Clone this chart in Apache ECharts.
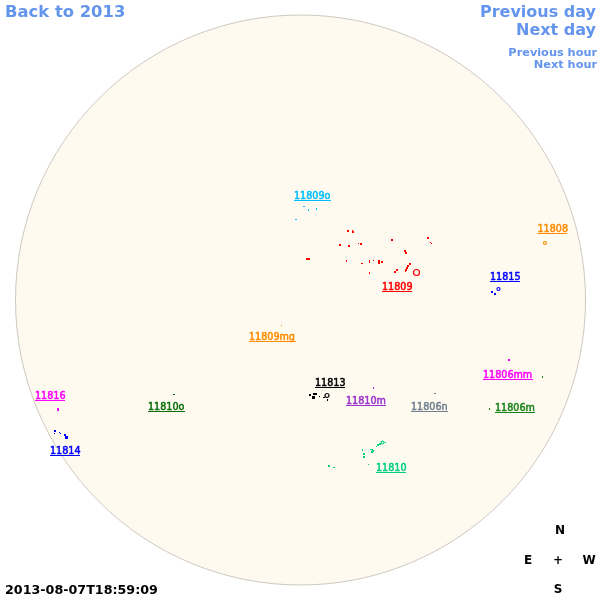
<!DOCTYPE html>
<html>
<head>
<meta charset="utf-8">
<title>Back to 2013</title>
<style>
  html, body { margin: 0; padding: 0; background: #fff; }
  #chart { width: 600px; height: 600px; }
</style>
</head>
<body>
<div id="chart"></div>
<script src="https://cdn.jsdelivr.net/npm/echarts@6/dist/echarts.min.js"></script>
<script>
// region names and colours, same order as the spot lists below
var regionNames = ['11809o', '11809', '11808', '11815', '11809mg', '11813', '11810m', '11806n', '11810', '11806mm', '11806m', '11816', '11810o', '11814'];
var regionColors = ['#00bfff', '#ff0000', '#ff8c00', '#0000ff', '#ff8c00', '#000000', '#9932cc', '#708090', '#00d080', '#ff00ff', '#1a841a', '#ff00ff', '#0a6f0a', '#0000ff'];

// label anchors [left, right, text y, underline y]
var labelBoxes = [
  [294, 331, 196.5, 200.5], [382, 412, 287, 291.5], [537.5, 567, 229, 233.5], [490, 520, 277, 281.5],
  [249, 296, 337, 341.5], [315, 345, 383, 387.5], [346, 386, 401, 405.5], [411, 448, 407, 411.5],
  [376, 406, 468, 472.5], [483, 533, 375, 379.5], [495, 535, 408.5, 412.5], [35, 65, 396.5, 400.5],
  [148, 185, 407, 411.5], [50, 80, 451, 455.5]
];

// sunspots [x, y, size], in the 600 x 600 frame of the picture
var spots11809o = [[303.5, 206.5, 1], [304.5, 206.5, 1], [308.5, 209.5, 1], [308.5, 210.5, 1], [316.5, 208.5, 1], [316.5, 209.5, 1], [295.5, 219.5, 1], [296.5, 219.5, 1]];
var spots11809 = [[348, 231, 2], [352.5, 230.5, 1], [353, 232, 2], [340, 245, 2], [349, 246, 2], [358.5, 243.5, 1], [361, 244, 2],
  [392, 240, 2], [428, 238, 2], [430.5, 242.5, 1], [431.5, 243.5, 1], [405, 251, 2], [406, 253, 2], [307, 259, 2], [309, 259, 2],
  [346.5, 260.5, 1], [346.5, 261.5, 1], [361.5, 263.5, 1], [362.5, 263.5, 1], [369.5, 260.5, 1], [369.5, 261.5, 1], [369.5, 262.5, 1], [373.5, 260.5, 1], [379, 261, 2], [379, 263, 2], [382, 262, 2],
  [369.5, 272.5, 1], [369.5, 273.5, 1], [395, 272, 2], [397, 270, 2], [410, 264, 2], [408, 266, 2], [407, 268, 2], [406, 270, 2], [405.5, 271.5, 1]];
var spots11808 = [];
var spots11815 = [[492, 292, 2], [495, 294, 2]];
var spots11809mg = [[281.5, 325.5, 1]];
var spots11813 = [[310, 395, 2], [314, 394, 2], [316, 394, 2], [313.5, 397.5, 3], [319.5, 396.5, 1], [323.5, 397.5, 1], [324.5, 397.5, 1], [327.5, 399.5, 1], [327.5, 400.5, 1]];
var spots11810m = [[373.5, 387.5, 1], [373.5, 388.5, 1]];
var spots11806n = [[434.5, 393.5, 1], [435.5, 393.5, 1]];
var spots11810 = [[385.5, 442.5, 1], [380, 444, 2], [378, 445, 2], [376.5, 446.5, 1], [370.5, 449.5, 1], [371.5, 449.5, 1], [372.5, 449.5, 1], [372, 452, 2], [373, 451, 2], [362.5, 449.5, 1], [362.5, 450.5, 1],
  [364, 454, 2], [364, 457, 2], [329, 466, 2], [333.5, 467.5, 1], [334.5, 467.5, 1], [368.5, 464.5, 1]];
var spots11806mm = [[509, 360, 2]];
var spots11806m = [[542.5, 376.5, 1], [542.5, 377.5, 1], [489.5, 408.5, 1], [489.5, 409.5, 1]];
var spots11816 = [[58, 409, 2], [58, 410, 2]];
var spots11810o = [[173.5, 394.5, 1], [174.5, 394.5, 1]];
var spots11814 = [[55, 431, 2], [54.5, 433.5, 1], [59.5, 432.5, 1], [60.5, 433.5, 1], [65, 435, 2], [66.5, 437.5, 3]];
var allSpots = [spots11809o, spots11809, spots11808, spots11815, spots11809mg, spots11813, spots11810m, spots11806n, spots11810, spots11806mm, spots11806m, spots11816, spots11810o, spots11814];

// hollow spots [x, y, size, region index]
var ringSpots = [[416.5, 272.5, 6, 1], [545, 243, 3, 2], [498.5, 289, 3, 3], [327, 395.5, 4, 5], [382.5, 442.5, 3, 8]];

var solarDisk = [[300.5, 300]];
var diskSize = 570;

var fontName = '"DejaVu Sans", sans-serif';

function cornerText(text, x, y, size, align, color) {
  return {
    type: 'text',
    x: x,
    y: y,
    silent: true,
    style: {
      text: text,
      fill: color,
      font: 'bold ' + size + 'px ' + fontName,
      textAlign: align,
      textVerticalAlign: 'middle'
    }
  };
}

function renderLabel(params, api) {
  var i = api.value(0);
  var box = labelBoxes[i];
  var left = api.coord([box[0], box[2]]);
  var under = api.coord([box[0], box[3]]);
  var right = api.coord([box[1], box[3]]);
  return {
    type: 'group',
    children: [
      {
        type: 'text',
        x: left[0],
        y: left[1],
        style: {
          text: regionNames[i],
          fill: regionColors[i],
          stroke: regionColors[i],
          lineWidth: 0.5,
          font: 'normal 9.6px ' + fontName,
          textAlign: 'left',
          textVerticalAlign: 'middle'
        }
      },
      {
        type: 'line',
        shape: { x1: under[0], y1: under[1], x2: right[0], y2: right[1] },
        style: { stroke: regionColors[i], lineWidth: 1 }
      }
    ]
  };
}

var series = [{
  name: 'disk',
  type: 'scatter',
  silent: true,
  symbol: 'circle',
  symbolSize: diskSize,
  itemStyle: { color: '#fffaf0', borderColor: '#cdc9c0', borderWidth: 1, opacity: 1 },
  data: solarDisk,
  z: 1
}];

for (var i = 0; i < regionNames.length; i++) {
  series.push({
    name: regionNames[i],
    type: 'scatter',
    silent: true,
    symbol: 'rect',
    symbolSize: function (val) { return val[2]; },
    itemStyle: { color: regionColors[i], opacity: 1 },
    data: allSpots[i],
    z: 2
  });
}

series.push({
  name: 'rings',
  type: 'scatter',
  silent: true,
  symbol: 'circle',
  symbolSize: function (val) { return val[2]; },
  data: ringSpots.map(function (r) {
    return {
      value: r,
      itemStyle: { color: 'rgba(0,0,0,0)', borderColor: regionColors[r[3]], borderWidth: 1.2, opacity: 1 }
    };
  }),
  z: 2
});

series.push({
  name: 'labels',
  type: 'custom',
  silent: true,
  renderItem: renderLabel,
  encode: { x: 1, y: 2 },
  data: regionNames.map(function (n, i) { return [i, labelBoxes[i][0], labelBoxes[i][2]]; }),
  z: 3
});

var chart = echarts.init(document.getElementById('chart'));
chart.setOption({
  animation: false,
  backgroundColor: '#ffffff',
  grid: { left: 0, right: 0, top: 0, bottom: 0 },
  xAxis: { type: 'value', min: 0, max: 600, show: false },
  yAxis: { type: 'value', min: 0, max: 600, inverse: true, show: false },
  series: series,
  graphic: [
    cornerText('Back to 2013', 5, 13, 16.4, 'left', '#6495ed'),
    cornerText('Previous day', 596, 13, 16, 'right', '#6495ed'),
    cornerText('Next day', 596, 31, 16, 'right', '#6495ed'),
    cornerText('Previous hour', 597, 53, 11.3, 'right', '#6495ed'),
    cornerText('Next hour', 597, 65, 11.3, 'right', '#6495ed'),
    cornerText('2013-08-07T18:59:09', 5, 591, 12.7, 'left', '#000000'),
    cornerText('N', 560, 531, 12, 'center', '#000000'),
    cornerText('E', 528, 561, 12, 'center', '#000000'),
    cornerText('+', 558, 561, 12, 'center', '#000000'),
    cornerText('W', 589, 561, 12, 'center', '#000000'),
    cornerText('S', 558, 590, 12, 'center', '#000000')
  ]
});
</script>
</body>
</html>
